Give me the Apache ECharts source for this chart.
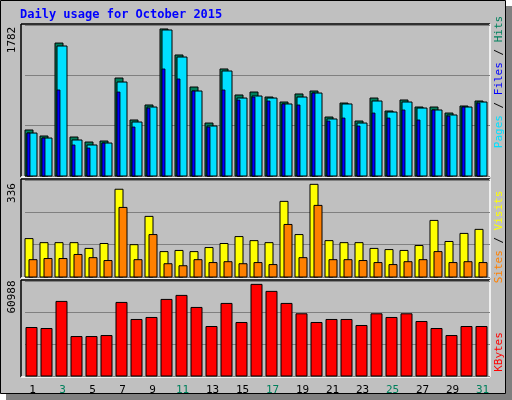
<!DOCTYPE html>
<html>
<head>
<meta charset="utf-8">
<script src="https://cdn.jsdelivr.net/npm/echarts@6/dist/echarts.min.js"></script>
<style>
  html, body { margin: 0; padding: 0; background: #ffffff; }
  #chart { width: 512px; height: 400px; }
</style>
</head>
<body>
<div id="chart"></div>
<script>
// Daily usage, October 2015
var days = ['1','2','3','4','5','6','7','8','9','10','11','12','13','14','15','16',
  '17','18','19','20','21','22','23','24','25','26','27','28','29','30','31'];
var weekend = ['3','4','10','11','17','18','24','25','31'];

var hits = [543,472,1569,460,401,413,1156,661,838,1735,1428,1050,625,1263,956,991,
  932,873,968,1003,696,861,649,920,767,897,814,814,743,826,885];
var files = [507,448,1534,425,366,389,1109,637,814,1723,1404,1003,590,1239,920,944,
  920,850,932,979,673,850,625,885,755,873,802,779,720,814,873];
var pages = [507,448,1015,366,330,389,991,578,802,1263,1145,1003,578,1015,897,932,
  885,850,838,979,649,684,590,743,684,779,661,779,708,814,861];
var sites = [133,119,119,119,99,116,304,112,210,88,92,88,102,116,140,126,
  119,262,147,321,126,119,119,99,95,92,109,196,123,151,165];
var visits = [60,64,64,78,67,57,241,60,147,46,39,60,50,53,46,50,
  43,182,67,248,60,60,57,50,43,53,60,88,50,53,50];
var kbytes = [31132,30487,47878,25335,25335,25979,47234,36284,37573,49166,51743,44014,31776,46590,34352,58828,
  54319,46590,39936,34352,36284,36284,32420,39936,37573,39936,34995,30487,25979,31776,31776];

var maxHits = 1782, maxVisits = 336, maxKB = 60988;

var chart = echarts.init(document.getElementById('chart'));
var FONT = '"DejaVu Sans Mono", monospace';

// one bar drawn inside a day slot, shifted by [x0, x1] pixels from the slot centre
function slotBar(vals, x0, x1, color, lineW) {
  return function (params, api) {
    var i = api.value(0);
    var base = api.coord([i, 0]);
    var top = api.coord([i, api.value(1)]);
    return {
      type: 'rect',
      shape: { x: base[0] + x0, y: top[1], width: x1 - x0, height: base[1] - top[1] },
      style: { fill: color, stroke: '#000000', lineWidth: lineW }
    };
  };
}
function custom(grid, data, x0, x1, color, lw) {
  return {
    type: 'custom', xAxisIndex: grid, yAxisIndex: grid,
    renderItem: slotBar(data, x0, x1, color, lw === undefined ? 1 : lw),
    data: data.map(function (v, i) { return [i, v]; }),
    silent: true
  };
}

var grids = [
  { left: 25, right: 22, top: 25, height: 151 },
  { left: 25, right: 22, top: 180, height: 97 },
  { left: 25, right: 22, top: 281, height: 95 }
];

function xAx(i, show) {
  return {
    type: 'category', gridIndex: i, data: days, boundaryGap: true,
    axisLine: { show: false }, axisTick: { show: false },
    axisLabel: {
      show: show, margin: 9, fontFamily: FONT, fontSize: 11,
      color: function (v) { return weekend.indexOf(v) >= 0 ? '#00805c' : '#000000'; }
    }
  };
}
function yAx(i, max) {
  return {
    type: 'value', gridIndex: i, min: 0, max: max, interval: max / 3,
    axisLabel: { show: false }, axisLine: { show: false }, axisTick: { show: false },
    splitLine: { lineStyle: { color: '#808080', width: 1 } }
  };
}

function frame(x, y, w, h) {
  return [
    { type: 'line', shape: { x1: x, y1: y, x2: x + w, y2: y }, style: { stroke: '#000', lineWidth: 1.5 } },
    { type: 'line', shape: { x1: x, y1: y, x2: x, y2: y + h }, style: { stroke: '#000', lineWidth: 1.5 } },
    { type: 'line', shape: { x1: x + w, y1: y, x2: x + w, y2: y + h }, style: { stroke: '#fff', lineWidth: 1.5 } },
    { type: 'line', shape: { x1: x, y1: y + h, x2: x + w, y2: y + h }, style: { stroke: '#fff', lineWidth: 1.5 } }
  ];
}
function vtext(x, y, rich, text) {
  return {
    type: 'text', x: x, y: y, rotation: Math.PI / 2, z: 10,
    style: { text: text, rich: rich, fontFamily: FONT, fontSize: 11, align: 'center', verticalAlign: 'middle' }
  };
}
function ytext(x, y, t) {
  return {
    type: 'text', x: x, y: y, rotation: Math.PI / 2, z: 10,
    style: { text: t, fontFamily: FONT, fontSize: 11, fill: '#000', align: 'center', verticalAlign: 'middle' }
  };
}

var graphics = [
  { type: 'rect', shape: { x: 6, y: 6, width: 506, height: 394 }, style: { fill: '#808080' }, z: -2 },
  { type: 'rect', shape: { x: 0.5, y: 0.5, width: 505, height: 393 }, style: { fill: '#c0c0c0', stroke: '#000', lineWidth: 1 }, z: -1 },
  { type: 'text', x: 20, y: 9, style: { text: 'Daily usage for October 2015', fontFamily: FONT, fontSize: 12, fontWeight: 'bold', fill: '#0000ff' } },
  ytext(12, 40, '1782'),
  ytext(12, 193, '336'),
  ytext(12, 297, '60988'),
  vtext(499, 82, {
    p: { fill: '#00e0ff', fontFamily: FONT, fontSize: 11 },
    f: { fill: '#0000ff', fontFamily: FONT, fontSize: 11 },
    h: { fill: '#00805c', fontFamily: FONT, fontSize: 11 },
    s: { fill: '#000000', fontFamily: FONT, fontSize: 11 }
  }, '{p|Pages}{s| / }{f|Files}{s| / }{h|Hits}'),
  vtext(499, 237, {
    a: { fill: '#ff8000', fontFamily: FONT, fontSize: 11 },
    b: { fill: '#ffff00', fontFamily: FONT, fontSize: 11 },
    s: { fill: '#000000', fontFamily: FONT, fontSize: 11 }
  }, '{a|Sites}{s| / }{b|Visits}'),
  vtext(499, 352, { k: { fill: '#ff0000', fontFamily: FONT, fontSize: 11 } }, '{k|KBytes}')
];
graphics = graphics.concat(frame(21, 24, 469, 153), frame(21, 179, 469, 99), frame(21, 280, 469, 97));

chart.setOption({
  backgroundColor: '#ffffff',
  animation: false,
  grid: grids,
  xAxis: [xAx(0, false), xAx(1, false), xAx(2, true)],
  yAxis: [yAx(0, maxHits), yAx(1, maxVisits), yAx(2, maxKB)],
  graphic: { elements: graphics },
  series: [
    custom(0, hits, -7.5, 0.5, '#00805c'),
    custom(0, files, -5.5, 4.5, '#00e0ff'),
    custom(0, pages, -5.5, -2.5, '#0000ff', 0.8),
    custom(1, sites, -7.5, 0.5, '#ffff00'),
    custom(1, visits, -3.5, 4.5, '#ff8000'),
    custom(2, kbytes, -6.5, 4.5, '#ff0000')
  ]
});
window.addEventListener('resize', function () { chart.resize(); });
</script>
</body>
</html>
